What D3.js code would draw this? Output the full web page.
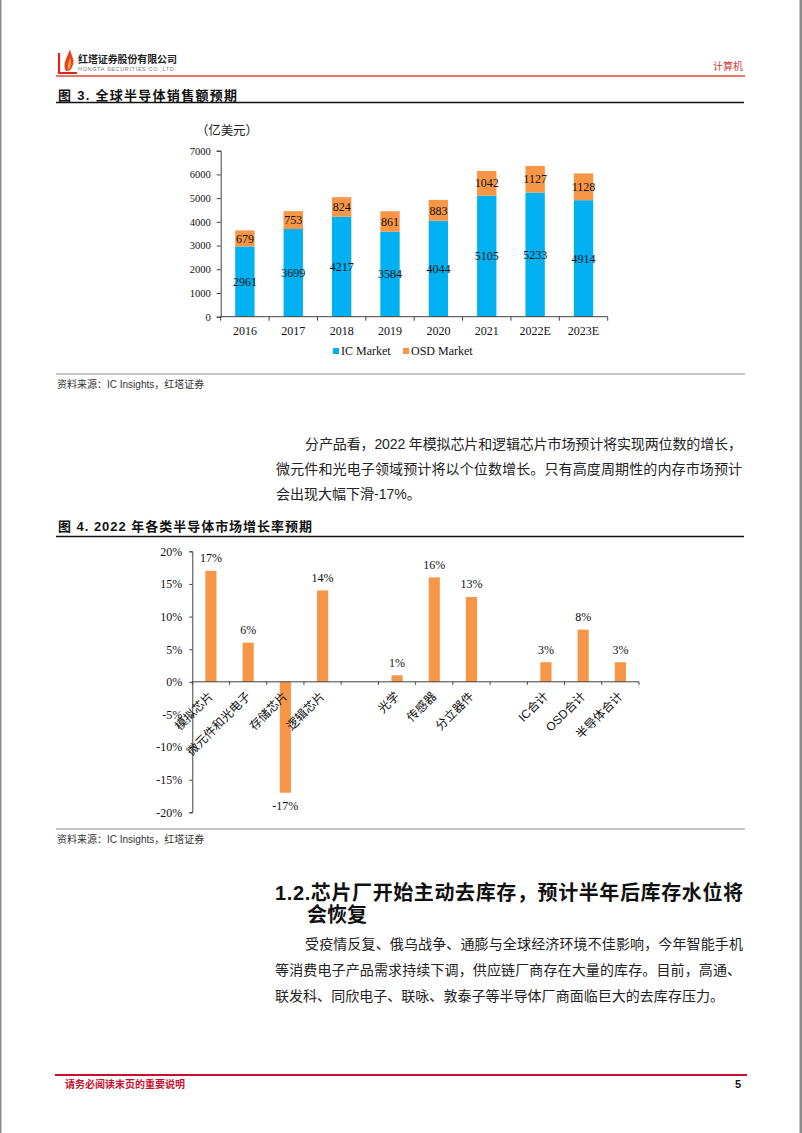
<!DOCTYPE html>
<html><head><meta charset="utf-8">
<script src="https://cdn.jsdelivr.net/npm/d3@7"></script>
<style>body{margin:0;background:#fff} svg{display:block}</style>
</head><body><svg id="page" width="802" height="1133"></svg>
<script>
// ---- data ----
const years = ["2016","2017","2018","2019","2020","2021","2022E","2023E"];
const icMarket = [2961,3699,4217,3584,4044,5105,5233,4914];
const osdMarket = [679,753,824,861,883,1042,1127,1128];
const salesTicks = [0,1000,2000,3000,4000,5000,6000,7000];
const seriesNames = ["IC Market","OSD Market"];
const segments = ["模拟芯片","微元件和光电子","存储芯片","逻辑芯片","","光学","传感器","分立器件","","IC合计","OSD合计","半导体合计"];
const growth = [17,6,-17,14,null,1,16,13,null,3,8,3];
const growthTicks = [-20,-15,-10,-5,0,5,10,15,20];

const para1 = ["分产品看，2022 年模拟芯片和逻辑芯片市场预计将实现两位数的增长，",
  "微元件和光电子领域预计将以个位数增长。只有高度周期性的内存市场预计",
  "会出现大幅下滑-17%。"];
const para2 = ["受疫情反复、俄乌战争、通膨与全球经济环境不佳影响，今年智能手机",
  "等消费电子产品需求持续下调，供应链厂商存在大量的库存。目前，高通、",
  "联发科、同欣电子、联咏、敦泰子等半导体厂商面临巨大的去库存压力。"];

const BLUE = "#00B0F0", ORANGE = "#F79646", AXIS = "#404040";
const SERIF = "'Liberation Serif','Times New Roman','Noto Sans CJK SC',serif";
const SANS = "'Liberation Sans',Arial,'Noto Sans CJK SC',sans-serif";
const CJK = "'Noto Sans CJK SC','Liberation Sans',sans-serif";

const svg = d3.select("#page");
svg.append("rect").attr("width",802).attr("height",1133).attr("fill","#fff");
// page side borders
svg.append("rect").attr("x",0).attr("y",0).attr("width",1.5).attr("height",1133).attr("fill","#8a8a8a");
svg.append("rect").attr("x",799.5).attr("y",0).attr("width",2.5).attr("height",1133).attr("fill","#8a8a8a");

// ---- header ----
svg.append("path").attr("d","M59,53 L59,73 L77,73").attr("fill","none").attr("stroke","#d8271c").attr("stroke-width",2.2);
svg.append("path").attr("d","M66,71 C62,64 67,58 70,49 C71,56 76,60 72,67 C71,70 69,71 66,71 Z").attr("fill","#e8421e");
svg.append("path").attr("d","M68,70 C67,66 69,62 70,58 C71,62 72,66 68,70 Z").attr("fill","#f6b33a");
svg.append("text").attr("x",78).attr("y",63).attr("font-family",CJK).attr("font-weight","bold")
  .attr("font-size",10).attr("textLength",99).attr("fill","#222").text("红塔证券股份有限公司");
svg.append("text").attr("x",78).attr("y",71).attr("font-family",SANS)
  .attr("font-size",5.5).attr("textLength",98).attr("fill","#777").text("HONGTA SECURITIES CO.,LTD.");
svg.append("text").attr("x",713).attr("y",69.5).attr("font-family",CJK)
  .attr("font-size",10).attr("textLength",30).attr("fill","#d0403a").text("计算机");
svg.append("line").attr("x1",56).attr("x2",745).attr("y1",76).attr("y2",76).attr("stroke","#e04a3c").attr("stroke-width",1.4);

function figTitle(y, txt, len){
  svg.append("text").attr("x",58).attr("y",y).attr("font-family",SANS).attr("font-weight","bold")
    .attr("font-size",13).attr("textLength",len).attr("fill","#111").text(txt);
}
figTitle(100,"图 3. 全球半导体销售额预期",179);
svg.append("line").attr("x1",56).attr("x2",744).attr("y1",102.5).attr("y2",102.5).attr("stroke","#111").attr("stroke-width",1.6);

// ---- chart 1 ----
const x1 = d3.scaleBand().domain(years).range([220.7,607.7]).paddingInner(0.6).paddingOuter(0.3);
const y1 = d3.scaleLinear().domain([0,7000]).range([316.7,150.7]);
const g1 = svg.append("g");
g1.append("text").attr("x",196).attr("y",134.5).attr("font-family",CJK).attr("font-size",12.5)
  .attr("textLength",62).attr("fill","#222").text("（亿美元）");

const stack = years.map((yr,i)=>({yr, ic:icMarket[i], osd:osdMarket[i]}));
g1.selectAll("rect.ic").data(stack).join("rect")
  .attr("x",d=>x1(d.yr)).attr("width",x1.bandwidth())
  .attr("y",d=>y1(d.ic)).attr("height",d=>y1(0)-y1(d.ic)).attr("fill",BLUE);
g1.selectAll("rect.osd").data(stack).join("rect")
  .attr("x",d=>x1(d.yr)).attr("width",x1.bandwidth())
  .attr("y",d=>y1(d.ic+d.osd)).attr("height",d=>y1(d.ic)-y1(d.ic+d.osd)).attr("fill",ORANGE);
g1.selectAll("text.icv").data(stack).join("text")
  .attr("x",d=>x1(d.yr)+x1.bandwidth()/2).attr("y",d=>(y1(0)+y1(d.ic))/2+4.2)
  .attr("text-anchor","middle").attr("font-family",SERIF).attr("font-size",12).attr("fill","#111").text(d=>d.ic);
g1.selectAll("text.osdv").data(stack).join("text")
  .attr("x",d=>x1(d.yr)+x1.bandwidth()/2).attr("y",d=>(y1(d.ic)+y1(d.ic+d.osd))/2+4.2)
  .attr("text-anchor","middle").attr("font-family",SERIF).attr("font-size",12).attr("fill","#111").text(d=>d.osd);

const ya1 = g1.append("g").attr("transform","translate(220.7,0)")
  .call(d3.axisLeft(y1).tickValues(salesTicks).tickSize(4).tickPadding(6).tickFormat(d3.format("d")));
ya1.selectAll("text").attr("font-family",SERIF).attr("font-size",10.5).attr("fill","#111");
ya1.selectAll("line,path").attr("stroke",AXIS);
// x axis line + boundary ticks
g1.append("line").attr("x1",x1.range()[0]).attr("x2",x1.range()[1]).attr("y1",y1(0)).attr("y2",y1(0)).attr("stroke",AXIS);
g1.selectAll("line.bt").data(d3.range(years.length+1)).join("line")
  .attr("x1",i=>x1.range()[0]+i*x1.step()).attr("x2",i=>x1.range()[0]+i*x1.step())
  .attr("y1",y1(0)).attr("y2",y1(0)+4).attr("stroke",AXIS);
g1.selectAll("text.xl").data(years).join("text")
  .attr("x",d=>x1(d)+x1.bandwidth()/2).attr("y",334.5).attr("text-anchor","middle")
  .attr("font-family",SERIF).attr("font-size",12).attr("fill","#111").text(d=>d);
// legend
const legX = [333,403];
seriesNames.forEach((n,i)=>{
  g1.append("rect").attr("x",legX[i]).attr("y",348).attr("width",6).attr("height",6).attr("fill",i?ORANGE:BLUE);
  g1.append("text").attr("x",legX[i]+8).attr("y",355).attr("font-family",SERIF).attr("font-size",12).attr("fill","#111").text(n);
});

// source 1
svg.append("line").attr("x1",56).attr("x2",745).attr("y1",374).attr("y2",374).attr("stroke","#8c8c8c").attr("stroke-width",1);
svg.append("text").attr("x",57).attr("y",387.5).attr("font-family",SANS).attr("font-size",10).attr("fill","#333").text("资料来源：IC Insights，红塔证券");

// paragraph helper
function para(lines, ys, xs, lens, size){
  lines.forEach((t,i)=>{
    const tx = svg.append("text").attr("x",xs[i]).attr("y",ys[i]).attr("font-family",SANS)
      .attr("font-size",size).attr("fill","#222").text(t);
    if(lens[i]) tx.attr("textLength",lens[i]).attr("lengthAdjust","spacing");
  });
}
para(para1,[449,474,499],[305,276,276],[437,466,null],14);

// ---- chart 2 ----
figTitle(531,"图 4. 2022 年各类半导体市场增长率预期",254);
svg.append("line").attr("x1",56).attr("x2",744).attr("y1",536.5).attr("y2",536.5).attr("stroke","#111").attr("stroke-width",1.6);

const idx = d3.range(segments.length);
const x2 = d3.scaleBand().domain(idx).range([192.3,639]).paddingInner(0.7).paddingOuter(0.35);
const y2 = d3.scaleLinear().domain([-20,20]).range([812.3,551.3]);
const g2 = svg.append("g");
const gd = idx.filter(i=>growth[i]!==null);
g2.selectAll("rect.g").data(gd).join("rect")
  .attr("x",i=>x2(i)).attr("width",x2.bandwidth())
  .attr("y",i=>y2(Math.max(0,growth[i]))).attr("height",i=>Math.abs(y2(growth[i])-y2(0))).attr("fill",ORANGE);
g2.selectAll("text.gv").data(gd).join("text")
  .attr("x",i=>x2(i)+x2.bandwidth()/2)
  .attr("y",i=>growth[i]>=0? y2(growth[i])-8.5 : y2(growth[i])+17.5)
  .attr("text-anchor","middle").attr("font-family",SERIF).attr("font-size",12).attr("fill","#111")
  .text(i=>growth[i]+"%");
const ya2 = g2.append("g").attr("transform","translate(192.3,0)")
  .call(d3.axisLeft(y2).tickValues(growthTicks).tickSize(3).tickPadding(7).tickFormat(d=>d+"%"));
ya2.selectAll("text").attr("font-family",SERIF).attr("font-size",12).attr("fill","#111");
ya2.selectAll("line,path").attr("stroke",AXIS);
g2.append("line").attr("x1",x2.range()[0]).attr("x2",x2.range()[1]).attr("y1",y2(0)).attr("y2",y2(0)).attr("stroke",AXIS);
g2.selectAll("line.bt").data(d3.range(segments.length+1)).join("line")
  .attr("x1",i=>x2.range()[0]+i*x2.step()).attr("x2",i=>x2.range()[0]+i*x2.step())
  .attr("y1",y2(0)).attr("y2",y2(0)+3).attr("stroke",AXIS);
g2.selectAll("text.cl").data(idx.filter(i=>segments[i])).join("text")
  .attr("transform",i=>`translate(${x2(i)+x2.bandwidth()/2+3},697) rotate(-45)`)
  .attr("text-anchor","end").attr("font-family",SANS).attr("font-size",12).attr("fill","#111")
  .text(i=>segments[i]);

// source 2
svg.append("line").attr("x1",56).attr("x2",745).attr("y1",829).attr("y2",829).attr("stroke","#8c8c8c").attr("stroke-width",1);
svg.append("text").attr("x",57).attr("y",842.5).attr("font-family",SANS).attr("font-size",10).attr("fill","#333").text("资料来源：IC Insights，红塔证券");

// section heading
svg.append("text").attr("x",275).attr("y",900).attr("font-family",SANS).attr("font-weight","bold")
  .attr("font-size",20).attr("textLength",468).attr("fill","#111").text("1.2.芯片厂开始主动去库存，预计半年后库存水位将");
svg.append("text").attr("x",307).attr("y",922).attr("font-family",SANS).attr("font-weight","bold")
  .attr("font-size",20).attr("fill","#111").text("会恢复");

para(para2,[948.5,974.5,1000.5],[305,275,275],[438,466,449],14);

// footer
svg.append("line").attr("x1",55).attr("x2",747).attr("y1",1075).attr("y2",1075).attr("stroke","#c8102e").attr("stroke-width",2);
svg.append("text").attr("x",65).attr("y",1088).attr("font-family",CJK).attr("font-weight","bold")
  .attr("font-size",10).attr("textLength",120).attr("fill","#c8102e").text("请务必阅读末页的重要说明");
svg.append("text").attr("x",738).attr("y",1088).attr("text-anchor","middle").attr("font-family",SANS).attr("font-weight","bold")
  .attr("font-size",11).attr("fill","#111").text("5");
</script></body></html>
